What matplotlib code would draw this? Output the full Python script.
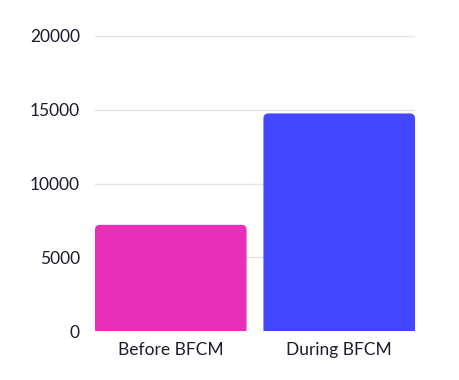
import matplotlib
matplotlib.use("Agg")
import matplotlib.pyplot as plt
from matplotlib.patches import FancyBboxPatch

categories = ["Before BFCM", "During BFCM"]
values = [7200, 14750]
colors = ["#E82FB7", "#4447FF"]
yticks = [0, 5000, 10000, 15000, 20000]

plt.rcParams['font.family'] = ['Lato', 'DejaVu Sans']

fig = plt.figure(figsize=(4.59, 3.8), dpi=100)
ax = fig.add_axes([95/459, 49/380, 320/459, 295/380])

bars = ax.bar(range(len(categories)), values, width=0.9, color=colors)
ax.set_xlim(-0.45, 1.45)
ax.set_ylim(0, 20000)

# swap plain bars for ones with rounded tops
px_x = 320 / 1.9
px_y = 295 / 20000
r = 5 / px_x
for b in bars:
    x, y = b.get_x(), b.get_y()
    w, h = b.get_width(), b.get_height()
    fb = FancyBboxPatch((x + r, y - 2000), w - 2 * r, h + 2000 - r * (px_x / px_y),
                        boxstyle="round,pad=%f" % r,
                        mutation_aspect=px_x / px_y,
                        fc=b.get_facecolor(), ec="none", zorder=3)
    ax.add_patch(fb)
    b.set_visible(False)

ax.set_yticks(yticks)
ax.set_xticks(range(len(categories)))
ax.set_xticklabels(categories)
ax.yaxis.grid(True, color="#e3e3e3", linewidth=1)
ax.set_axisbelow(True)
for s in ax.spines.values():
    s.set_visible(False)
ax.tick_params(axis="both", length=0, labelsize=12.5, colors="#1b1b2f")
ax.tick_params(axis="y", pad=11)
ax.tick_params(axis="x", pad=8)

fig.savefig("out.png", dpi=100)
